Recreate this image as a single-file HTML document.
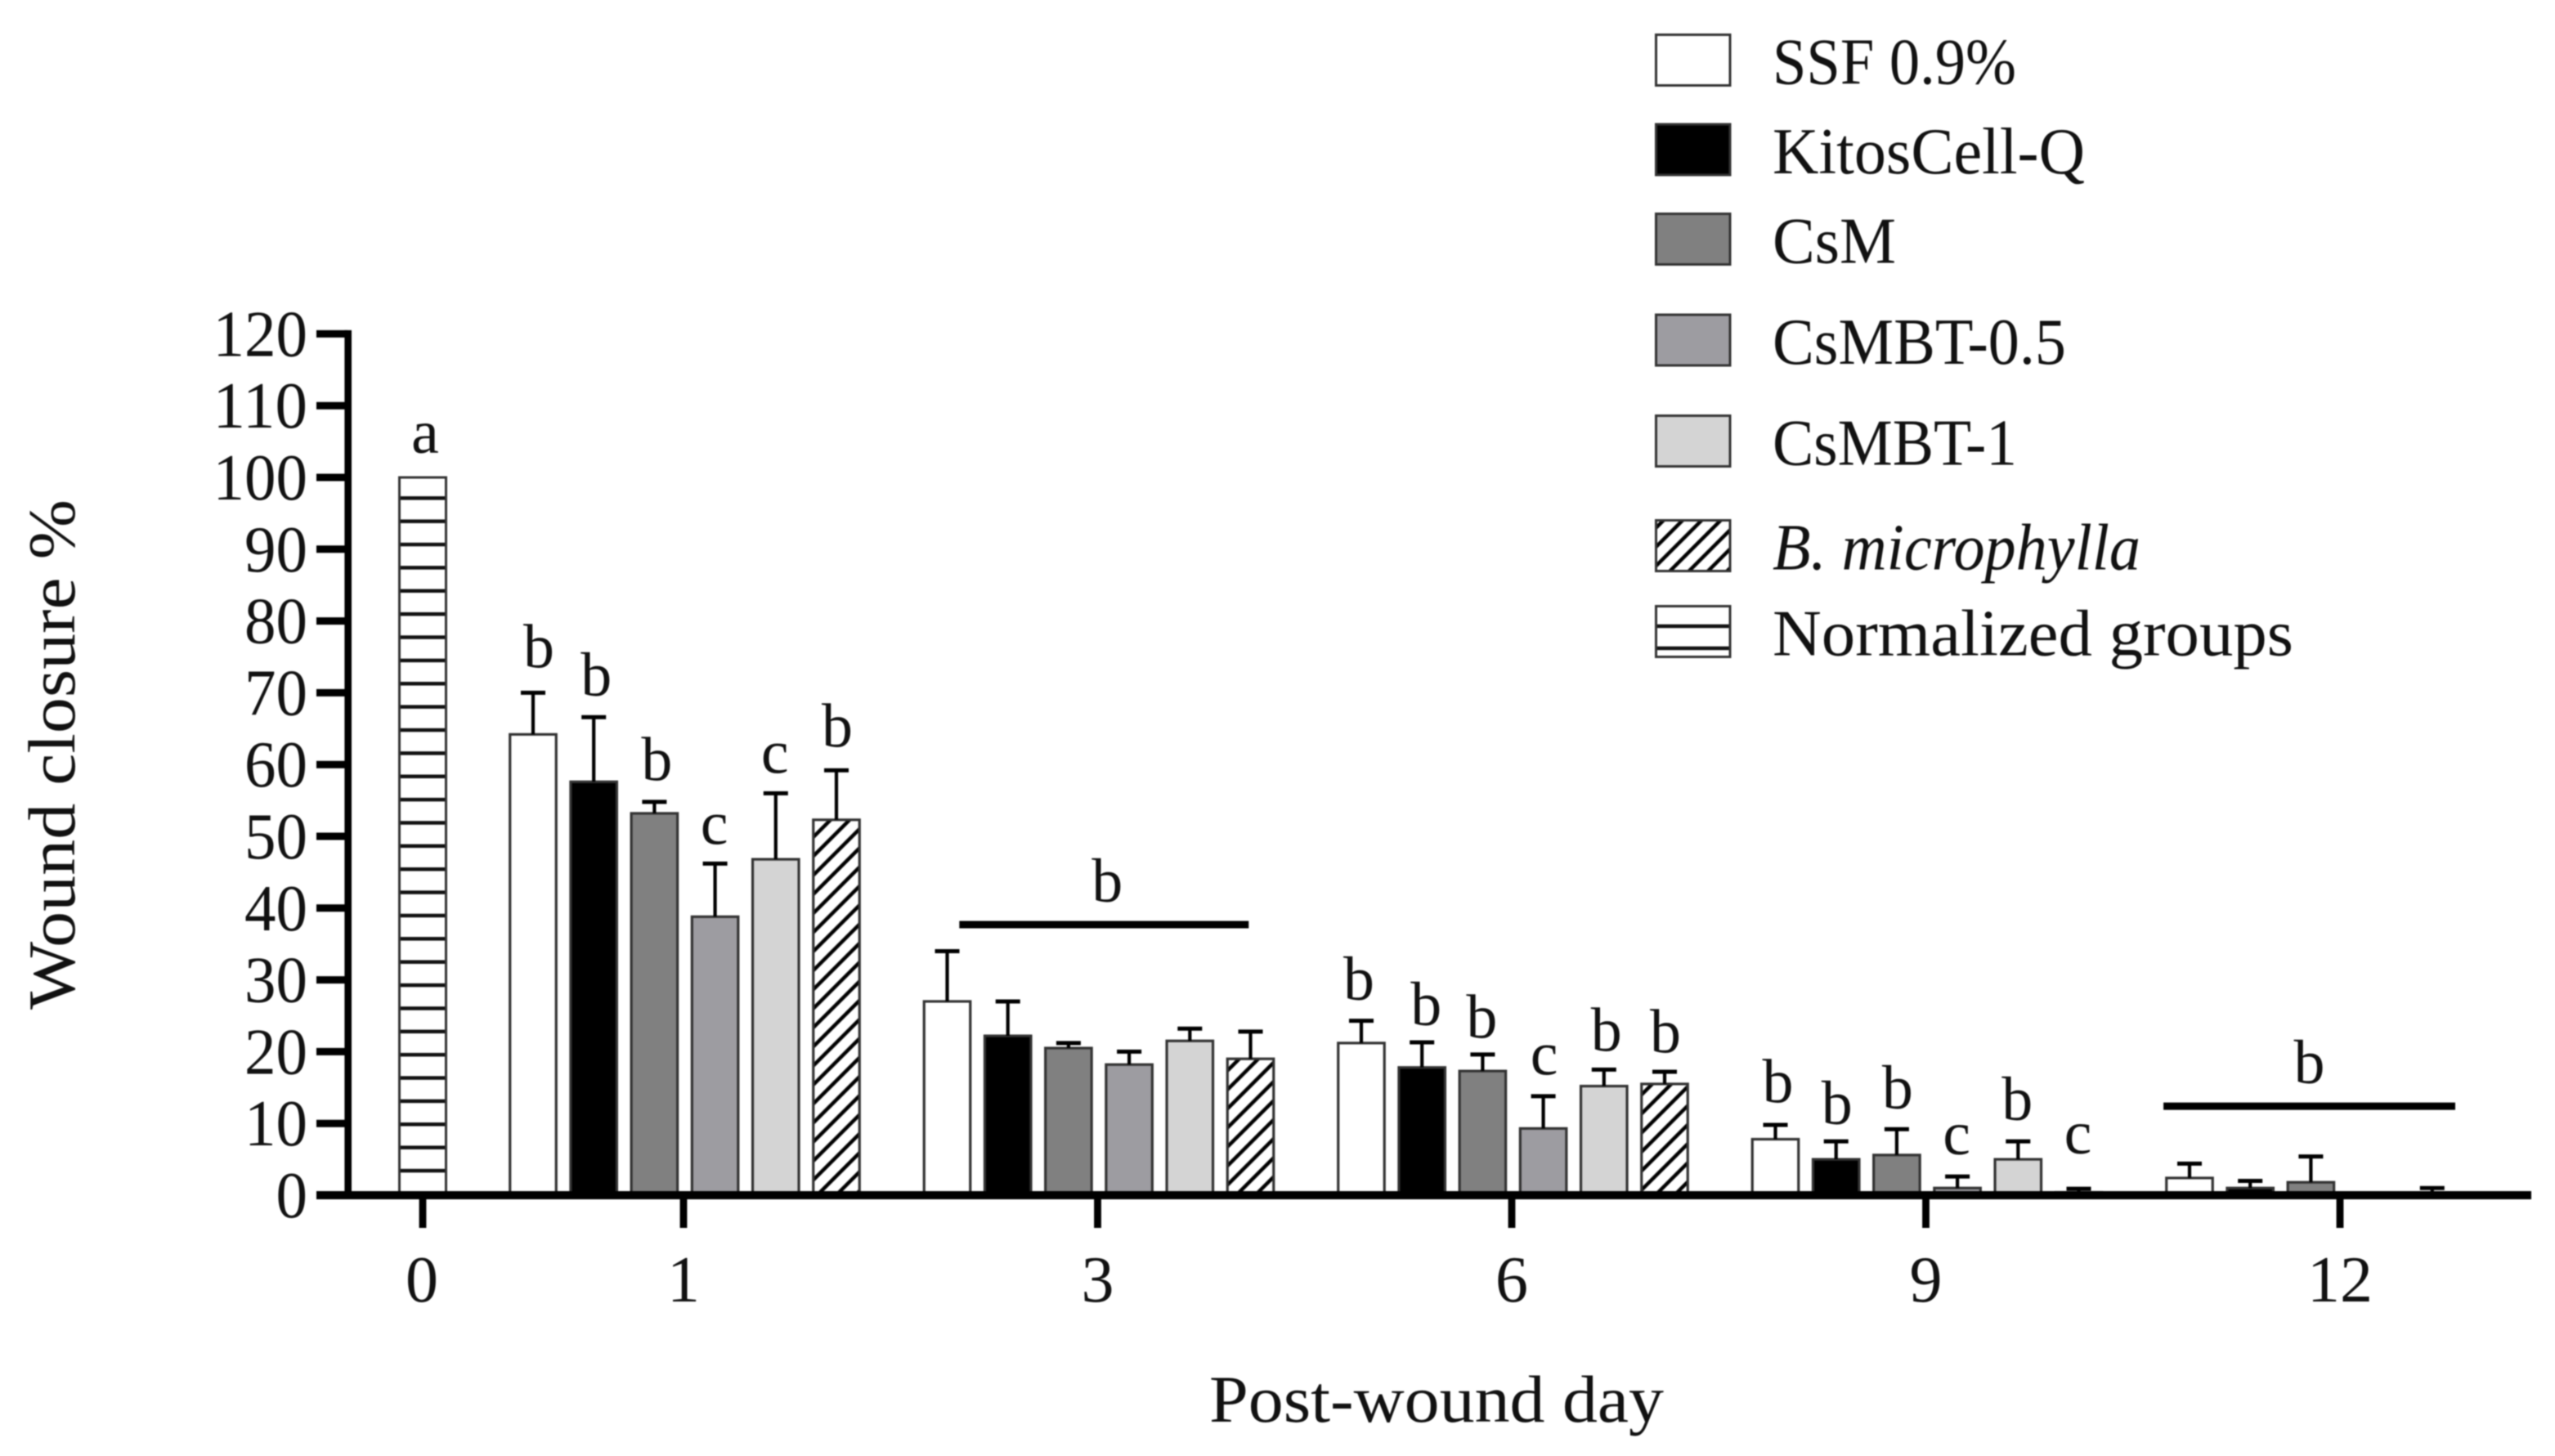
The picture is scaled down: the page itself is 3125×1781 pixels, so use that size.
<!DOCTYPE html>
<html lang="en">
<head>
<meta charset="utf-8">
<title>Wound closure chart</title>
<style>
html,body{margin:0;padding:0;background:#fff;}
svg{display:block;filter:blur(0.7px);}
text{font-family:"Liberation Serif",serif;fill:#111;}
</style>
</head>
<body>
<svg id="chart" xmlns="http://www.w3.org/2000/svg" width="3125" height="1781" viewBox="0 0 3125 1781">
<defs>
<pattern id="hatch-diag" patternUnits="userSpaceOnUse" width="16.476" height="34" patternTransform="rotate(45)">
<rect width="16.476" height="34" fill="#fff"></rect>
<rect x="8.25" y="0" width="4.5" height="34" fill="#000"></rect>
</pattern>
<pattern id="hatch-horiz" patternUnits="userSpaceOnUse" width="10" height="28.37" y="607.05">
<rect width="10" height="28.37" fill="#fff"></rect>
<rect y="0" width="10" height="4.5" fill="#111"></rect>
</pattern>
<pattern id="hatch-horiz-legend" patternUnits="userSpaceOnUse" width="10" height="27" y="763.7">
<rect width="10" height="27" fill="#fff"></rect>
<rect y="0" width="10" height="4.5" fill="#111"></rect>
</pattern>
</defs>
<g id="plot"></g>
<g id="legend"></g>
</svg>
<script>
// Chart data
const dayLabels = ['0', '1', '3', '6', '9', '12'];
const yTickLabels = [0, 10, 20, 30, 40, 50, 60, 70, 80, 90, 100, 110, 120];
const treatments = ['SSF 0.9%', 'KitosCell-Q', 'CsM', 'CsMBT-0.5', 'CsMBT-1', 'B. microphylla'];

const normalizedValue = 100;

// values per day 1, 3, 6, 9, 12
const ssfMeans = [64.2, 27, 21.2, 7.8, 2.4];
const kitosMeans = [57.6, 22.2, 17.8, 5, 1];
const csmMeans = [53.2, 20.5, 17.3, 5.6, 1.8];
const csmbt05Means = [38.8, 18.2, 9.3, 1, 0];
const csmbt1Means = [46.8, 21.5, 15.2, 5, 0];
const microMeans = [52.3, 19, 15.5, 0.4, 0];

const ssfTops = [70, 34, 24.3, 9.8, 4.4];
const kitosTops = [66.6, 27, 21.3, 7.5, 2];
const csmTops = [54.8, 21.2, 19.6, 9.2, 5.4];
const csmbt05Tops = [46.2, 20, 13.8, 2.6, 0];
const csmbt1Tops = [56, 23.2, 17.5, 7.5, 1];
const microTops = [59.2, 22.8, 17.2, 0.9, 0];

// significance letters and the value level of their baselines
const lettersDay0 = ['a'];
const lettersDay0Levels = [103.4];
const lettersDay1 = ['b', 'b', 'b', 'c', 'c', 'b'];
const lettersDay1Levels = [73.5, 69.6, 57.8, 48.9, 58.8, 62.5];
const lettersDay6 = ['b', 'b', 'b', 'c', 'b', 'b'];
const lettersDay6Levels = [27.2, 23.7, 21.9, 16.8, 20.1, 19.9];
const lettersDay9 = ['b', 'b', 'b', 'c', 'b', 'c'];
const lettersDay9Levels = [12.9, 9.9, 12.1, 5.7, 10.5, 5.8];

// brackets for days 3 and 12: value level and span in bar slots
const bracketDays = [2, 5];
const bracketLevels = [37.7, 12.4];
const bracketStartSlots = [0.2, -0.43];
const bracketEndSlots = [4.97, 4.38];
const bracketLetters = ['b', 'b'];

const SVGNS = 'http://www.w3.org/2000/svg';
const plot = document.getElementById('plot');
const legend = document.getElementById('legend');

const yZero = 1462, yUnit = 8.78;
const tickStart = 517, dayStep = 506.5, firstDayTick = 836, barStep = 74.2, barWidth = 56.5;

function yScale(v) { return yZero - v * yUnit; }
function xDay(i) { return i === 0 ? tickStart : firstDayTick + (i - 1) * dayStep; }
function xBar(day, s) { return xDay(day) + 1.5 + (s - 2.5) * barStep; }

function make(tag, parent) {
  const el = document.createElementNS(SVGNS, tag);
  parent.appendChild(el);
  return el;
}
function line(parent, x1, y1, x2, y2, w, color) {
  const el = make('line', parent);
  el.setAttribute('x1', x1);
  el.setAttribute('y1', y1);
  el.setAttribute('x2', x2);
  el.setAttribute('y2', y2);
  el.setAttribute('stroke', color || '#000');
  el.setAttribute('stroke-width', w);
  return el;
}
function rect(parent, x, y, w, h, fill, sw) {
  const el = make('rect', parent);
  el.setAttribute('x', x);
  el.setAttribute('y', y);
  el.setAttribute('width', w);
  el.setAttribute('height', h);
  el.setAttribute('fill', fill);
  el.setAttribute('stroke', '#333');
  el.setAttribute('stroke-width', sw);
  return el;
}
function label(parent, x, y, str, size, anchor) {
  const el = make('text', parent);
  el.setAttribute('x', x);
  el.setAttribute('y', y);
  el.setAttribute('font-size', size);
  el.setAttribute('text-anchor', anchor || 'middle');
  el.textContent = str;
  return el;
}

const fills = ['#ffffff', '#000000', '#808080', '#9d9ca1', '#d4d4d4', 'url(#hatch-diag)'];
const allMeans = [ssfMeans, kitosMeans, csmMeans, csmbt05Means, csmbt1Means, microMeans];
const allTops = [ssfTops, kitosTops, csmTops, csmbt05Tops, csmbt1Tops, microTops];

// Day 0 normalized bar
const normBar = rect(plot, 488.5, yScale(normalizedValue), 57, yZero - yScale(normalizedValue), 'url(#hatch-horiz)', 3);



// Treatment bars and error bars
allMeans.forEach(function (means, s) {
  means.forEach(function (v, d) {
    const day = d + 1;
    const cx = xBar(day, s);
    if (v > 0) {
      const bar = rect(plot, cx - barWidth / 2, yScale(v), barWidth, yZero - yScale(v), fills[s], 3.2);
      
      
    }
    const top = allTops[s][d];
    if (top > v) {
      const stem = line(plot, cx, yScale(v), cx, yScale(top), 4.2);
      
      
      const cap = line(plot, cx - 15, yScale(top), cx + 15, yScale(top), 5);
      
      
    }
  });
});

// Axes
const yAxis = line(plot, 425.7, yScale(120) - 4.5, 425.7, yZero, 8.6);


const xAxis = line(plot, 387, yZero, 3096, yZero, 10);



yTickLabels.forEach(function (v) {
  const t = line(plot, 387, yScale(v), 425, yScale(v), 9);
  
  
  const str = String(v);
  const l = label(plot, 376, yScale(v) + 27, str, 80, 'end');
  l.setAttribute('textLength', str.length * 38.5);
  l.setAttribute('lengthAdjust', 'spacingAndGlyphs');
  
  
});
dayLabels.forEach(function (d, i) {
  const t = line(plot, xDay(i), yZero, xDay(i), 1502, 8.8);
  
  
  const l = label(plot, xDay(i) - (i === 0 ? 1 : 0), 1592, d, 80);
  
  
});

// Significance letters
function putLetters(day, letters, levels, nudge) {
  letters.forEach(function (ch, s) {
    const x = (day === 0 ? xDay(day) + 3 : xBar(day, s) + 1) + (nudge ? nudge[s] : 0);
    const l = label(plot, x, yScale(levels[s]), ch, 76);
    
    
  });
}
putLetters(0, lettersDay0, lettersDay0Levels);
putLetters(1, lettersDay1, lettersDay1Levels, [6, 2, 2, -2, -2, 0]);
putLetters(3, lettersDay6, lettersDay6Levels, [-4, 4, -2, 0, 2, 0]);
putLetters(4, lettersDay9, lettersDay9Levels, [2, 0, 0, -2, -2, -2]);

bracketDays.forEach(function (day, i) {
  const x1 = xBar(day, bracketStartSlots[i]);
  const x2 = xBar(day, bracketEndSlots[i]);
  const b = line(plot, x1, yScale(bracketLevels[i]), x2, yScale(bracketLevels[i]), 9);
  
  
  const l = label(plot, (x1 + x2) / 2 + (i === 0 ? 4 : 0), yScale(bracketLevels[i]) - 28, bracketLetters[i], 76);
  
  
});

// Axis titles
const xTitle = label(plot, 1757, 1739, 'Post-wound day', 82);
xTitle.setAttribute('textLength', '556');
xTitle.setAttribute('lengthAdjust', 'spacingAndGlyphs');



const yTitle = label(plot, 0, 0, 'Wound closure %', 82);
yTitle.setAttribute('transform', 'translate(91,923) rotate(-90)');
yTitle.setAttribute('textLength', '624');
yTitle.setAttribute('lengthAdjust', 'spacingAndGlyphs');



// Legend
const legendLabels = ['SSF 0.9%', 'KitosCell-Q', 'CsM', 'CsMBT-0.5', 'CsMBT-1', 'B. microphylla', 'Normalized groups'];
const legendFills = ['#ffffff', '#000000', '#808080', '#9d9ca1', '#d4d4d4', 'url(#hatch-diag)', 'url(#hatch-horiz-legend)'];
const legendRowTops = [42.5, 152, 261.5, 385, 508.5, 636.5, 741.5];
const legendTextWidths = [298, 382, 151, 359, 299, 450, 637];
legendLabels.forEach(function (name, i) {
  const sw = rect(legend, 2025.5, legendRowTops[i], 90.5, 62, legendFills[i], 3);
  
  
  const t = label(legend, 2168, legendRowTops[i] + 60, name, 80, 'start');
  t.setAttribute('textLength', legendTextWidths[i]);
  t.setAttribute('lengthAdjust', 'spacingAndGlyphs');
  if (i === 5) { t.setAttribute('font-style', 'italic'); }
  
  
});
</script>
</body>
</html>
